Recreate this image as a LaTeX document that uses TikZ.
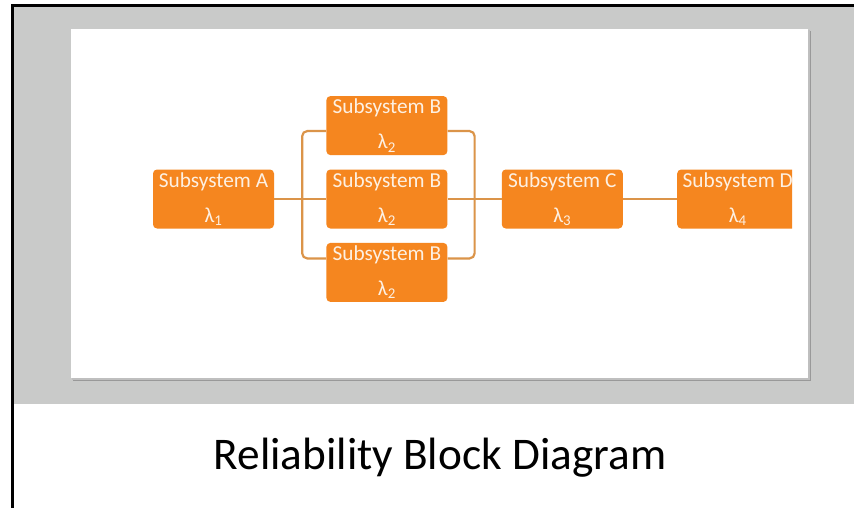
\documentclass[tikz,border=0pt]{standalone}
\usepackage{fontspec}
\setmainfont{Carlito}
\usetikzlibrary{positioning}
\definecolor{rbdorange}{HTML}{F5861F}
\definecolor{rbdline}{HTML}{DB9449}
\definecolor{rbdgray}{HTML}{C9CAC9}
\definecolor{rbdtext}{HTML}{FDF0E2}
\tikzset{
  block/.style={fill=rbdorange,rounded corners=4pt,minimum width=121pt,minimum height=59pt,inner sep=0pt,text=rbdtext,font=\fontsize{21.3}{23}\selectfont,align=center},
  link/.style={draw=rbdline,line width=2.2pt}
}
\begin{document}
\begin{tikzpicture}[x=1pt,y=-1pt]
            \useasboundingbox (0,0) rectangle (854,508);
            % page and card
            \fill[rbdgray] (14,7) rectangle (854,404);
            \draw[line width=3pt] (12.5,508) -- (12.5,6) -- (854,6);
            \fill[black!40] (73,31) rectangle (811,381);
            \fill[black!25] (72,30) rectangle (809.5,379.5);
            \fill[white] (71,29) rectangle (808,378);
            % blocks
            \node (sysA) at (213.5,199)[block]{Subsystem A\\[12pt]λ\textsubscript{1}};
            \node (sysB2)[block,right=52pt of sysA]{Subsystem B\\[12pt]λ\textsubscript{2}};
            \node (sysB1)[block,above=14pt of sysB2]{Subsystem B\\[12pt]λ\textsubscript{2}};
            \node (sysB3)[block,below=14pt of sysB2]{Subsystem B\\[12pt]λ\textsubscript{2}};
            \node (sysC)[block,right=54pt of sysB2]{Subsystem C\\[12pt]λ\textsubscript{3}};
            \begin{scope}
            \clip (0,0) rectangle (792,508);
            \node (sysD)[block,right=54pt of sysC]{Subsystem D\\[12pt]λ\textsubscript{4}};
            \end{scope}
            % connectors
            \coordinate (inT) at ([yshift=-5.5pt]sysB1.west);
            \coordinate (inB) at ([yshift=14pt]sysB3.west);
            \coordinate (outT) at ([yshift=-5.5pt]sysB1.east);
            \coordinate (outB) at ([yshift=14pt]sysB3.east);
            \draw[link,rounded corners=5pt] (inT) -| ([xshift=-24pt]sysB2.west) |- (inB);
            \draw[link,rounded corners=5pt] (outT) -| ([xshift=27pt]sysB2.east) |- (outB);
            \draw[link] (sysA) -- (sysB2);
            \draw[link] (sysB2) -- (sysC);
            \draw[link] (sysC) -- (sysD);
            % caption
            \node (title) at (440,458)[font=\fontsize{45.3}{50}\selectfont]{Reliability Block Diagram};
        \end{tikzpicture}
\end{document}
